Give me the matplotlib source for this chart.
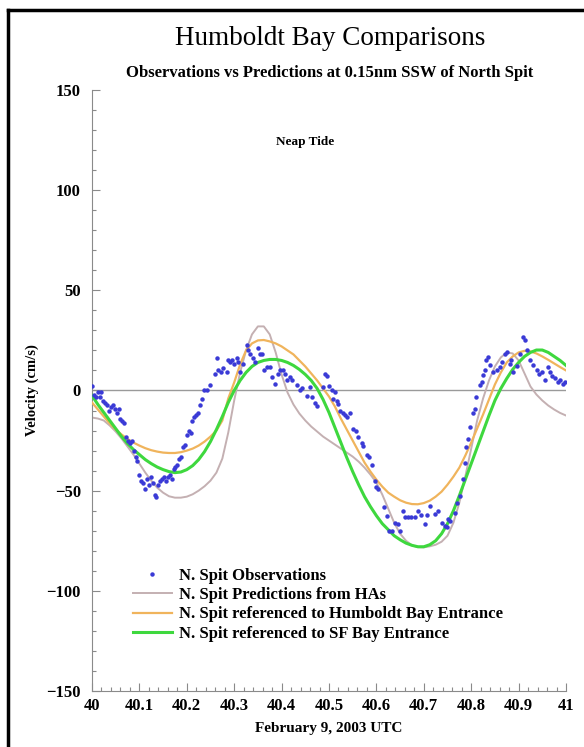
import numpy as np
import matplotlib
matplotlib.use("Agg")
import matplotlib.pyplot as plt
from matplotlib.lines import Line2D
from matplotlib.ticker import MultipleLocator
from matplotlib.legend_handler import HandlerLine2D

plt.rcParams['font.family'] = ['Liberation Serif', 'DejaVu Serif']

# model curves, sampled every 0.0125 day
t_model = [40.0000, 40.0125, 40.0250, 40.0375, 40.0500, 40.0625, 40.0750, 40.0875, 40.1000,
           40.1125, 40.1250, 40.1375, 40.1500, 40.1625, 40.1750, 40.1875, 40.2000, 40.2125,
           40.2250, 40.2375, 40.2500, 40.2625, 40.2750, 40.2875, 40.3000, 40.3125, 40.3250,
           40.3375, 40.3500, 40.3625, 40.3750, 40.3875, 40.4000, 40.4125, 40.4250, 40.4375,
           40.4500, 40.4625, 40.4750, 40.4875, 40.5000, 40.5125, 40.5250, 40.5375, 40.5500,
           40.5625, 40.5750, 40.5875, 40.6000, 40.6125, 40.6250, 40.6375, 40.6500, 40.6625,
           40.6750, 40.6875, 40.7000, 40.7125, 40.7250, 40.7375, 40.7500, 40.7625, 40.7750,
           40.7875, 40.8000, 40.8125, 40.8250, 40.8375, 40.8500, 40.8625, 40.8750, 40.8875,
           40.9000, 40.9125, 40.9250, 40.9375, 40.9500, 40.9625, 40.9750, 40.9875, 41.0000]

v_has = [-13.5, -14, -15, -17.5, -20.5, -24, -28, -32, -36.5,
         -41, -45, -48.5, -51, -52.8, -53.5, -53.5, -53, -51.8,
         -50, -47.8, -45, -41, -34, -21, -5, 9, 20,
         28, 32, 32, 28, 19, 8, -1, -7, -11.5,
         -15, -18, -20.5, -23, -25, -27, -29, -31, -33,
         -35.5, -38.5, -42, -46, -52, -59, -66, -71.5, -75,
         -77.3, -78.2, -78.3, -77.8, -77, -75.5, -72.5, -66, -56,
         -43, -29, -15, -4, 5, 12, 16.5, 19, 18.5,
         15, 8.5, 2, -2, -5, -7.5, -9.5, -11.2, -12.5]

v_humboldt = [-6, -9.5, -13, -16.5, -19.5, -22, -24.2, -26, -27.5,
              -28.8, -29.8, -30.5, -31, -31.2, -31.2, -30.8, -30, -29,
              -27.5, -25.5, -23, -20, -15, -4, 4, 13, 20,
              23.5, 25, 25.2, 24.5, 23.5, 22, 20, 18, 15,
              12, 8.5, 5, 1, -3, -8, -14, -19.5, -25,
              -30.5, -36, -40.5, -44.5, -48, -51, -53, -54.8, -56,
              -56.7, -56.8, -56.2, -55, -53, -50.5, -47, -43, -38.5,
              -32.5, -26, -19, -12, -4.5, 3, 9, 14, 17,
              19, 19.8, 19.5, 18.5, 17, 15.3, 13.5, 11.7, 10]

v_sf = [-2.5, -7, -11, -15, -19, -23, -26.5, -29.5, -32,
        -34.5, -36.5, -38.2, -39.5, -40.5, -41, -40.7, -39.5, -37.5,
        -34.5, -30.5, -25.5, -19.5, -13, -6, 0, 5, 9,
        12, 14, 15, 15.5, 15.5, 15, 14, 12.5, 10.5,
        8, 5, 1, -4.5, -11, -18.5, -26, -33.5, -40.5,
        -47, -53, -58, -62.5, -66.5, -69.5, -72.5, -74.5, -76.2,
        -77.3, -78, -78, -77, -75, -71.5, -66.5, -60, -52.5,
        -44.5, -36.5, -28.5, -20.5, -12.5, -5, 1, 6, 10.5,
        14, 17, 19, 20.2, 20.2, 19, 17, 15, 12.5]

# current meter observations
t_obs = [40.000, 40.004, 40.008, 40.012, 40.016, 40.020, 40.024, 40.028, 40.032, 40.036,
         40.040, 40.044, 40.048, 40.052, 40.056, 40.060, 40.064, 40.068, 40.072, 40.076,
         40.080, 40.084, 40.088, 40.092, 40.096, 40.100, 40.104, 40.108, 40.112, 40.116,
         40.120, 40.124, 40.128, 40.132, 40.136, 40.140, 40.144, 40.148, 40.152, 40.156,
         40.160, 40.164, 40.168, 40.172, 40.176, 40.180, 40.184, 40.188, 40.192, 40.196,
         40.200, 40.204, 40.208, 40.212, 40.216, 40.220, 40.224, 40.228, 40.232, 40.236,
         40.242, 40.249, 40.259, 40.263, 40.266, 40.272, 40.277, 40.284, 40.287, 40.291,
         40.295, 40.300, 40.305, 40.309, 40.312, 40.319, 40.326, 40.329, 40.333, 40.340,
         40.344, 40.351, 40.355, 40.358, 40.362, 40.369, 40.376, 40.379, 40.386, 40.393,
         40.397, 40.402, 40.407, 40.411, 40.418, 40.422, 40.432, 40.439, 40.444, 40.453,
         40.460, 40.465, 40.470, 40.474, 40.488, 40.492, 40.496, 40.500, 40.506, 40.509,
         40.513, 40.517, 40.520, 40.523, 40.530, 40.534, 40.537, 40.544, 40.551, 40.558,
         40.561, 40.569, 40.572, 40.580, 40.584, 40.590, 40.597, 40.600, 40.604, 40.615,
         40.622, 40.626, 40.632, 40.639, 40.646, 40.650, 40.657, 40.660, 40.667, 40.674,
         40.681, 40.688, 40.695, 40.702, 40.706, 40.713, 40.724, 40.731, 40.738, 40.745,
         40.748, 40.752, 40.755, 40.766, 40.769, 40.776, 40.783, 40.787, 40.790, 40.794,
         40.797, 40.804, 40.807, 40.811, 40.818, 40.822, 40.825, 40.829, 40.832, 40.836,
         40.840, 40.847, 40.854, 40.861, 40.864, 40.871, 40.875, 40.882, 40.885, 40.889,
         40.896, 40.903, 40.910, 40.913, 40.917, 40.924, 40.931, 40.938, 40.942, 40.949,
         40.956, 40.963, 40.966, 40.970, 40.977, 40.984, 40.988, 40.993, 40.998]

v_obs = [2, -2, -3, -1, -3, -1, -5, -6, -7, -10,
         -8, -7, -9, -11, -9, -14, -15, -16, -23, -25,
         -26, -25, -30, -33, -35, -42, -45, -46, -49, -44,
         -47, -43, -46, -52, -53, -47, -45, -44, -43, -45,
         -43, -42, -44, -39, -38, -37, -34, -33, -28, -27,
         -22, -20, -21, -15, -13, -12, -11, -7, -4, 0,
         0, 2.5, 8, 16, 10, 9, 11, 9, 15, 14,
         15, 13, 16, 14, 9, 13, 22.5, 20, 18, 16,
         14, 21, 18, 18, 10, 11.7, 11.7, 6.7, 3, 8,
         10, 10, 8, 5, 6.7, 5, 2.5, 0, 1, -2.5,
         1.7, -3, -6, -7.5, 1.7, 8, 7, 2, 0, -4,
         -1, -5, -6.7, -10, -11, -12, -13, -11, -19, -20,
         -23, -26, -27.5, -32, -33, -37, -45, -48, -49, -58,
         -62.5, -70, -70, -66, -66.7, -70, -60, -63, -63, -63,
         -63, -60, -62, -66.7, -62, -57.5, -61.7, -60, -66, -67.5,
         -68, -64, -65, -61, -56, -52.5, -44, -36, -28, -24,
         -18, -11, -9, -3, 2.5, 4, 7.5, 10, 15, 16.7,
         12.5, 9, 10, 11.7, 14, 18, 19, 13, 15, 9,
         12, 18, 26.7, 25, 20, 15, 12.5, 10, 8, 9,
         5, 11.7, 9, 7, 6, 4, 5, 3, 4]


class MarkerAtRight(HandlerLine2D):
    # put the single legend marker next to the label instead of mid-handle
    def get_xdata(self, legend, xdescent, ydescent, width, height, fontsize):
        xdata = np.array([-xdescent, -xdescent + width])
        return xdata, np.array([-xdescent + width * 0.97])


fig = plt.figure(figsize=(5.84, 7.47), dpi=100)
ax = fig.add_axes([0.1575, 0.075, 0.8117, 0.8045])

ax.axhline(0, color='#9a9a9a', lw=1.0, zorder=1)
obs, = ax.plot(t_obs, v_obs, ls='none', marker='o', ms=2.2, mfc='#3a3ad6', mec='#3a3ad6',
               label='N. Spit Observations', zorder=5)
ax.plot(t_model, v_has, color='#c4b0b2', lw=1.4, label='N. Spit Predictions from HAs', zorder=2)
ax.plot(t_model, v_humboldt, color='#f0b45c', lw=1.6,
        label='N. Spit referenced to Humboldt Bay Entrance', zorder=3)
ax.plot(t_model, v_sf, color='#3ed83e', lw=2.2,
        label='N. Spit referenced to SF Bay Entrance', zorder=4)

ax.set_xlim(40, 41)
ax.set_ylim(-150, 150)
ax.set_xticks(np.arange(40, 41.001, 0.1))
ax.set_xticklabels(['40', '40.1', '40.2', '40.3', '40.4', '40.5', '40.6',
                    '40.7', '40.8', '40.9', '41'])
ax.set_yticks([-150, -100, -50, 0, 50, 100, 150])
ax.set_yticklabels(['\u2212150', '\u2212100', '\u221250', '0', '50', '100', '150'])
ax.xaxis.set_minor_locator(MultipleLocator(0.02))
ax.yaxis.set_minor_locator(MultipleLocator(10))
ax.tick_params(which='both', direction='in', color='#8a8a8a', width=0.8, labelsize=12)
ax.tick_params(axis='x', pad=5)
ax.tick_params(axis='y', pad=8)
ax.tick_params(which='major', length=6)
ax.tick_params(which='minor', length=3)
for lbl in ax.get_xticklabels() + ax.get_yticklabels():
    lbl.set_fontweight('bold')
for side in ['top', 'right']:
    ax.spines[side].set_visible(False)
for side in ['left', 'bottom']:
    ax.spines[side].set_color('#8a8a8a')
    ax.spines[side].set_linewidth(0.8)

ax.set_xlabel('February 9, 2003 UTC', fontsize=11, fontweight='bold', labelpad=6)
ax.set_ylabel('Velocity (cm/s)', fontsize=10.5, fontweight='bold', labelpad=5)

ax.text(40.45, 124, 'Neap Tide', fontsize=9.5, fontweight='bold', ha='center', va='center')

leg = ax.legend(loc='lower left', bbox_to_anchor=(0.086, 0.082), frameon=False,
                prop={'size': 12, 'weight': 'bold'}, handlelength=2.35,
                handletextpad=0.45, labelspacing=0.2, borderaxespad=0, borderpad=0,
                handler_map={obs: MarkerAtRight(numpoints=1)})

fig.text(0.565, 0.948, 'Humboldt Bay Comparisons', fontsize=19.5, ha='center', va='center')
fig.text(0.565, 0.902, 'Observations vs Predictions at 0.15nm SSW of North Spit',
         fontsize=12, fontweight='bold', ha='center', va='center')

# page frame
fig.add_artist(Line2D([0.013, 0.013], [0.0, 0.987], color='black', lw=2.5))
fig.add_artist(Line2D([0.013, 1.0], [0.987, 0.987], color='black', lw=2.5))

fig.savefig('out.png', dpi=100)
